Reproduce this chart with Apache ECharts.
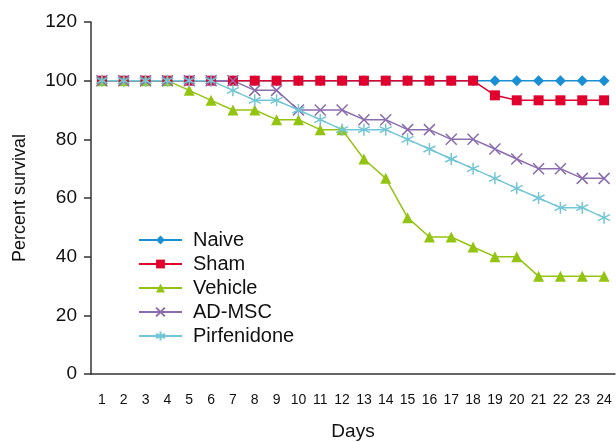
<!DOCTYPE html>
<html>
<head>
<meta charset="utf-8">
<script src="https://cdn.jsdelivr.net/npm/echarts@6/dist/echarts.min.js"></script>
<style>html,body{margin:0;padding:0;background:#fff}#c{width:616px;height:442px}</style>
</head>
<body>
<div id="c"></div>
<script>
const days = ['1','2','3','4','5','6','7','8','9','10','11','12','13','14','15','16','17','18','19','20','21','22','23','24'];
const naive = [100,100,100,100,100,100,100,100,100,100,100,100,100,100,100,100,100,100,100,100,100,100,100,100];
const sham = [100,100,100,100,100,100,100,100,100,100,100,100,100,100,100,100,100,100,95,93.3,93.3,93.3,93.3,93.3];
const vehicle = [100,100,100,100,96.7,93.3,90,90,86.7,86.7,83.3,83.3,73.3,66.7,53.3,46.7,46.7,43.3,40,40,33.3,33.3,33.3,33.3];
const adMsc = [100,100,100,100,100,100,100,96.7,96.7,90,90,90,86.7,86.7,83.3,83.3,80,80,76.7,73.3,70,70,66.7,66.7];
const pirfenidone = [100,100,100,100,100,100,96.7,93.3,93.3,90,86.7,83.3,83.3,83.3,80,76.7,73.3,70,66.7,63.3,60,56.7,56.7,53.3];
const yTicks = [0,20,40,60,80,100,120];

const font = 'Liberation Sans, Arial, sans-serif';
const crossPath = 'path://M0,0L10,10M10,0L0,10';
const starPath = 'path://M5,0L5,10M0.7,2.5L9.3,7.5M0.7,7.5L9.3,2.5';

function mk(name, data, color, symbol, size, strokeOnly) {
  return {
    name: name, type: 'line', data: data, symbol: symbol, symbolSize: size,
    lineStyle: {color: color, width: 1.5},
    itemStyle: strokeOnly ? {color: 'rgba(0,0,0,0)', borderColor: color, borderWidth: 1.5} : {color: color, borderWidth: 0},
    emphasis: {disabled: true},
    animation: false
  };
}

const chart = echarts.init(document.getElementById('c'), null, {renderer: 'canvas'});
chart.setOption({
  animation: false,
  textStyle: {fontFamily: font},
  grid: {left: 91, right: 1, top: 22, bottom: 68, containLabel: false, outerBoundsMode: 'none'},
  legend: {
    orient: 'vertical', left: 133, top: 225, itemWidth: 43, itemHeight: 11, itemGap: 4,
    textStyle: {fontSize: 20, color: '#111', fontFamily: font, padding: [0, 0, 0, 6]},
    data: ['Naive','Sham','Vehicle','AD-MSC','Pirfenidone']
  },
  xAxis: {
    type: 'category', data: days, boundaryGap: true,
    name: 'Days', nameLocation: 'middle', nameGap: 48,
    nameTextStyle: {fontSize: 19, color: '#111'},
    axisLine: {lineStyle: {color: '#333', width: 1.5}},
    axisTick: {length: 7, lineStyle: {color: '#333', width: 1.5}, alignWithLabel: false},
    axisLabel: {fontSize: 14, color: '#111', margin: 19, interval: 0}
  },
  yAxis: {
    type: 'value', min: 0, max: 120, interval: 20,
    name: 'Percent survival', nameLocation: 'middle', nameGap: 62,
    nameTextStyle: {fontSize: 18, color: '#111'},
    axisLine: {show: true, lineStyle: {color: '#333', width: 1.5}},
    axisTick: {show: true, length: 7, lineStyle: {color: '#333', width: 1.5}},
    axisLabel: {fontSize: 19, color: '#111', margin: 14,
      formatter: v => yTicks.includes(v) ? String(v) : ''},
    splitLine: {show: false}
  },
  series: [
    mk('Naive', naive, '#1b8fd3', 'diamond', 11, false),
    mk('Sham', sham, '#e1002d', 'rect', 10, false),
    mk('Vehicle', vehicle, '#94c412', 'triangle', 11, false),
    mk('AD-MSC', adMsc, '#8a6dae', crossPath, 11, true),
    mk('Pirfenidone', pirfenidone, '#73c6d5', starPath, 12, true)
  ]
});
</script>
</body>
</html>
